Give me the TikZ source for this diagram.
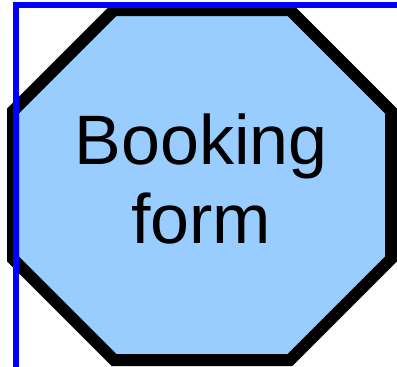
\documentclass[tikz,border=0pt]{standalone}
\usepackage{fontspec}
\setmainfont{Liberation Sans}
\definecolor{octfill}{HTML}{99CCFF}
\tikzset{
  octo/.style={draw=black, fill=octfill, line width=12pt, line join=miter},
  guide/.style={draw=blue, line width=6pt, line join=miter},
  lbl/.style={inner sep=0pt, align=center, font=\fontsize{70pt}{79pt}\selectfont}
}
\begin{document}
\begin{tikzpicture}[x=1pt,y=-1pt]
\useasboundingbox (0,0) rectangle (397,367);
\draw[octo] (114,10) -- (290,10) -- (391,111) -- (391,259) -- (290,360) -- (114,360) -- (13,259) -- (13,111) -- cycle;
\node[lbl] (t) at (201,179) {Booking\\form};
\coordinate (g1) at (16,367);
\coordinate (g2) at (16,5);
\coordinate (g3) at (397,5);
\draw[guide] (g1) -- (g2) -- (g3);
\end{tikzpicture}
\end{document}
